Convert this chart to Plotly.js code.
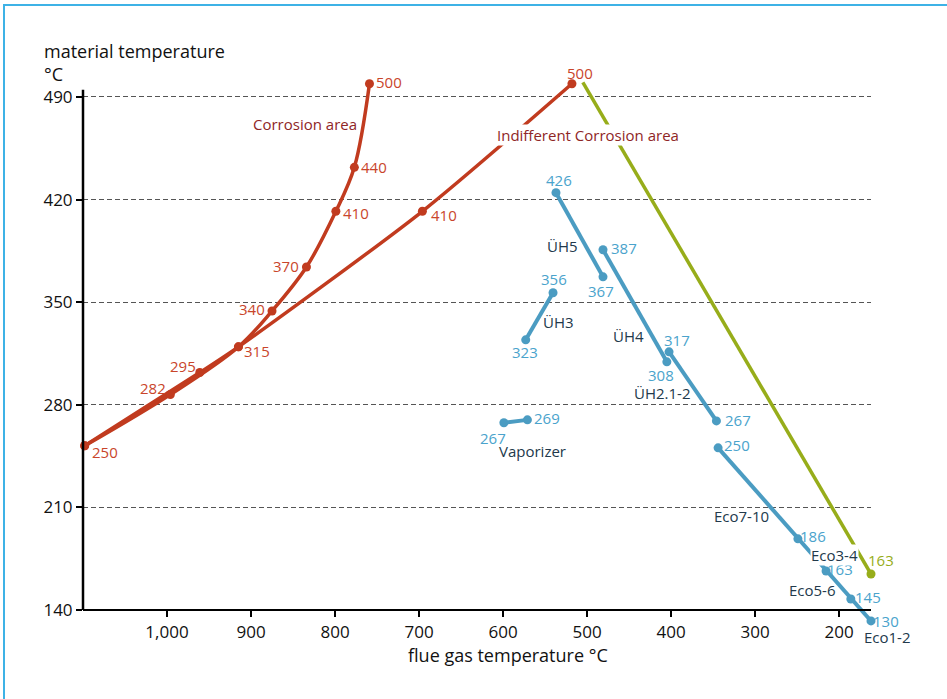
<!DOCTYPE html>
<html><head><meta charset="utf-8">
<script src="https://cdn.plot.ly/plotly-3.0.1.min.js"></script>
<style>
html,body{margin:0;padding:0;background:#fff;}
#chart{width:947px;height:699px;}
#frame{position:absolute;left:3px;top:4px;width:944px;height:695px;border-left:2px solid #3db2e6;border-top:2px solid #3db2e6;pointer-events:none;box-sizing:border-box;}
</style>
</head><body>
<div id="chart"></div><div id="frame"></div>
<script>
// ---- data ----
const xTickVals = [1000, 900, 800, 700, 600, 500, 400, 300, 200];
const xTickText = ['1,000', '900', '800', '700', '600', '500', '400', '300', '200'];
const yTickVals = [140, 210, 280, 350, 420, 490];

const corrX = [1098, 996, 915, 875, 834, 799, 777, 759];
const corrY = [252, 287, 319.5, 344, 374, 412, 442, 499];
const corrLabels = ['250', '282', '315', '340', '370', '410', '440', '500'];

const indX = [1098, 961, 915, 696, 518];
const indY = [252, 302, 319.5, 412, 499];
const indLabels = ['', '295', '', '410', '500'];

const greenX = [505, 162];
const greenY = [500, 164.5];
const greenLabels = ['', '163'];

const uh5X = [537, 481];
const uh5Y = [424.7, 367.3];
const uh5Labels = ['426', '367'];

const uh4X = [481, 405];
const uh4Y = [385.8, 309.3];
const uh4Labels = ['387', '308'];

const uh3X = [540.5, 573];
const uh3Y = [356.4, 324.3];
const uh3Labels = ['356', '323'];

const uh2X = [402.4, 346];
const uh2Y = [316.1, 269];
const uh2Labels = ['317', '267'];

const vapX = [599, 571];
const vapY = [267.7, 269.7];
const vapLabels = ['267', '269'];

const ecoX = [344, 249, 215.5, 186, 162];
const ecoY = [250.6, 188.5, 166.6, 147.5, 132.5];
const ecoLabels = ['250', '186', '163', '145', '130'];

// ---- styles ----
const RED = '#c13b1f', RED_T = '#c9452b', RED_DARK = '#8f2626';
const BLUE = '#4b9cc2', BLUE_T = '#4aa3cc';
const GREEN = '#97ad1a';
const NAVY = '#22394b';
const FONT = 'Open Sans, Noto Sans, sans-serif';
const LSIZE = 15;

// label offsets in pixels (dx right, dy down)
const corrOff = [[20,6],[-17,-7],[19,4],[-20,-2],[-20,-1],[20,2],[20,0],[20,-2]];
const indOff = [[0,0],[-17,-7],[0,0],[22,4],[8,-11]];
const greenOff = [[0,0],[10,-14]];
const uh5Off = [[3,-13],[-2,14]];
const uh4Off = [[21,-2],[-6,13]];
const uh3Off = [[1,-14],[-1,12]];
const uh2Off = [[8,-12],[22,-1]];
const vapOff = [[-11,15],[20,-2]];
const ecoOff = [[19,-3],[15,-3],[14,-2],[17,-2],[15,0]];

const annotations = [];
function addLabels(xs, ys, texts, offs, color) {
  texts.forEach((t, i) => {
    if (!t) return;
    annotations.push({x: xs[i], y: ys[i], xref: 'x', yref: 'y', text: t, showarrow: false,
      xshift: offs[i][0], yshift: -offs[i][1], font: {family: FONT, size: LSIZE, color: color}});
  });
}
function addName(text, x, y, dx, dy, color, bg) {
  const a = {x: x, y: y, xref: 'x', yref: 'y', text: text, showarrow: false,
    xshift: dx, yshift: -dy, font: {family: FONT, size: LSIZE, color: color}, borderpad: 0};
  if (bg) { a.bgcolor = '#ffffff'; }
  annotations.push(a);
}

addLabels(corrX, corrY, corrLabels, corrOff, RED_T);
addLabels(indX, indY, indLabels, indOff, RED_T);
addLabels(greenX, greenY, greenLabels, greenOff, GREEN);
addLabels(uh5X, uh5Y, uh5Labels, uh5Off, BLUE_T);
addLabels(uh4X, uh4Y, uh4Labels, uh4Off, BLUE_T);
addLabels(uh3X, uh3Y, uh3Labels, uh3Off, BLUE_T);
addLabels(uh2X, uh2Y, uh2Labels, uh2Off, BLUE_T);
addLabels(vapX, vapY, vapLabels, vapOff, BLUE_T);
addLabels(ecoX, ecoY, ecoLabels, ecoOff, BLUE_T);

addName('ÜH5', uh5X[0], uh5Y[0], 7, 53, NAVY);
addName('ÜH3', uh3X[0], uh3Y[0], 5, 29, NAVY);
addName('ÜH4', uh4X[0], uh4Y[0], 25, 86, NAVY);
addName('ÜH2.1-2', uh2X[0], uh2Y[0], -7, 41, NAVY);
addName('Vaporizer', vapX[0], vapY[0], 29, 28, NAVY);
addName('Eco7-10', ecoX[0], ecoY[0], 23, 68, NAVY);
addName('Eco3-4', ecoX[1], ecoY[1], 37, 16, NAVY, true);
addName('Eco5-6', ecoX[2], ecoY[2], -14, 19, NAVY);
addName('Eco1-2', ecoX[4], ecoY[4], 16, 16, NAVY);
addName('Corrosion area', corrX[corrX.length-1], corrY[corrY.length-1], -64, 40, RED_DARK);
addName('Indifferent Corrosion area', indX[indX.length-1], indY[indY.length-1], 16, 51, RED_DARK, true);

const yMin = 127, yMax = 505;
const plotTop = 75, plotBottom = 629, plotLeft = 83, plotW = 788;
const plotH = plotBottom - plotTop;

// axis titles
annotations.push({xref: 'paper', yref: 'paper', x: (42-plotLeft)/plotW, y: (plotBottom-62)/plotH, xanchor: 'left', yanchor: 'middle',
  align: 'left', showarrow: false, text: 'material temperature<br>°C', font: {family: FONT, size: 18, color: '#111'}});
annotations.push({xref: 'paper', yref: 'paper', x: (508-plotLeft)/plotW, y: -(655-plotBottom)/plotH, xanchor: 'center', yanchor: 'middle',
  showarrow: false, text: 'flue gas temperature °C', font: {family: FONT, size: 18, color: '#111'}});

function seg(xs, ys, color, width, extra) {
  return Object.assign({x: xs, y: ys, type: 'scatter', mode: 'lines+markers', cliponaxis: false,
    line: {color: color, width: width}, marker: {color: color, size: 9}, hoverinfo: 'skip'}, extra || {});
}

const traces = [
  seg(greenX, greenY, GREEN, 3.5, {mode: 'lines'}),
  seg(greenX.slice(-1), greenY.slice(-1), GREEN, 3.5, {mode: 'markers'}),
  seg(indX, indY, RED, 3.5, {line: {color: RED, width: 3.5, shape: 'spline', smoothing: 0.7}}),
  seg(corrX, corrY, RED, 3.5, {line: {color: RED, width: 3.5, shape: 'spline', smoothing: 1}}),
  seg(uh5X, uh5Y, BLUE, 4),
  seg(uh4X, uh4Y, BLUE, 4),
  seg(uh3X, uh3Y, BLUE, 4),
  seg(uh2X, uh2Y, BLUE, 4),
  seg(vapX, vapY, BLUE, 4),
  seg(ecoX, ecoY, BLUE, 4)
];

const layout = {
  width: 947, height: 699,
  margin: {l: plotLeft, r: 947 - plotLeft - plotW, t: plotTop, b: 699 - plotBottom},
  paper_bgcolor: '#ffffff', plot_bgcolor: '#ffffff',
  showlegend: false,
  font: {family: FONT, color: '#111'},
  xaxis: {range: [1100, 162], anchor: 'free', position: (140 - yMin) / (yMax - yMin),
    showline: true, linecolor: '#000', linewidth: 2.5,
    ticks: 'outside', ticklen: 6, tickwidth: 2, tickcolor: '#000',
    tickvals: xTickVals, ticktext: xTickText, tickfont: {family: FONT, size: 17, color: '#111'},
    showgrid: false, zeroline: false},
  yaxis: {range: [yMin, yMax], showline: false,
    ticks: 'outside', ticklen: 6, tickwidth: 2, tickcolor: '#000',
    tickvals: yTickVals, tickfont: {family: FONT, size: 17, color: '#111'},
    showgrid: true, gridcolor: '#555', gridwidth: 1, griddash: '5px,3px', zeroline: false},
  shapes: [{type: 'line', xref: 'paper', yref: 'y', x0: 0, x1: 0, y0: 140, y1: 495,
    line: {color: '#000', width: 2.5}}],
  annotations: annotations
};

Plotly.newPlot('chart', traces, layout, {displayModeBar: false, staticPlot: true});
</script>
</body></html>
